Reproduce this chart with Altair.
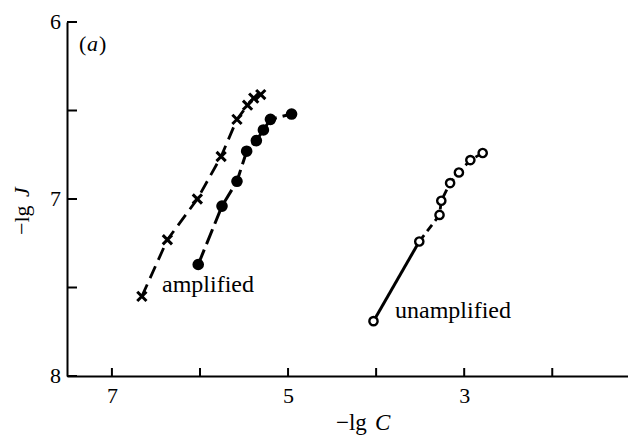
import altair as alt
import pandas as pd

# amplified, crosses
x_cross = [6.66, 6.37, 6.03, 5.76, 5.58, 5.46, 5.39, 5.31]
y_cross = [7.55, 7.23, 7.00, 6.76, 6.55, 6.47, 6.43, 6.41]
# amplified, filled circles
x_dot = [6.02, 5.75, 5.58, 5.47, 5.36, 5.28, 5.20, 4.96]
y_dot = [7.37, 7.04, 6.90, 6.73, 6.67, 6.61, 6.55, 6.52]
# unamplified, open circles
x_open = [4.03, 3.51, 3.28, 3.26, 3.16, 3.06, 2.93, 2.79]
y_open = [7.69, 7.24, 7.09, 7.01, 6.91, 6.85, 6.78, 6.74]

x_ticks = [7, 6, 5, 4, 3, 2]
x_labels = [7, 5, 3]
y_ticks = [6, 6.5, 7, 7.5, 8]
y_labels = ["6", "7", "8"]

FONT = "Liberation Serif"
W, H = 561, 354

xs = alt.Scale(domain=[1.14, 7.51], reverse=True, nice=False, zero=False)
ys = alt.Scale(domain=[6, 8], reverse=True, nice=False, zero=False)

common = dict(ticks=False, grid=False, domainColor="black", domainWidth=2,
              labelFont=FONT, labelFontSize=22, labelColor="black",
              labelOverlap=False, labelFlush=False, title=None, format="d")
xaxis = alt.Axis(values=x_labels, labelPadding=9, **common)
yaxis = alt.Axis(values=[6, 8], labels=False, **common)

xenc = alt.X("x:Q", scale=xs, axis=xaxis)
yenc = alt.Y("y:Q", scale=ys, axis=yaxis)

df_cross = pd.DataFrame({"x": x_cross, "y": y_cross})
df_dot = pd.DataFrame({"x": x_dot, "y": y_dot})
df_open = pd.DataFrame({"x": x_open, "y": y_open})
df_open_solid = df_open.iloc[:2]
df_open_dash = df_open.iloc[1:]

line_cross = alt.Chart(df_cross).mark_line(color="black", strokeWidth=2.8, strokeDash=[13, 7]).encode(x=xenc, y=yenc)
line_dot = alt.Chart(df_dot).mark_line(color="black", strokeWidth=3, strokeDash=[16, 6]).encode(x=xenc, y=yenc)
line_open_s = alt.Chart(df_open_solid).mark_line(color="black", strokeWidth=3).encode(x=xenc, y=yenc)
line_open_d = alt.Chart(df_open_dash).mark_line(color="black", strokeWidth=2.8, strokeDash=[8, 5]).encode(x=xenc, y=yenc)

pts_cross = alt.Chart(df_cross).mark_point(
    shape="M-1,-1L1,1M-1,1L1,-1", size=85, filled=False, color="black",
    strokeWidth=3, opacity=1).encode(x=xenc, y=yenc)
pts_dot = alt.Chart(df_dot).mark_point(
    shape="circle", size=135, filled=True, color="black", opacity=1).encode(x=xenc, y=yenc)
pts_open = alt.Chart(df_open).mark_point(
    shape="circle", size=68, filled=True, fill="white", stroke="black",
    strokeWidth=2.4, opacity=1, fillOpacity=1, strokeOpacity=1).encode(x=xenc, y=yenc)

xt = alt.Chart(pd.DataFrame({"x": x_ticks})).mark_rule(color="black", strokeWidth=2).encode(
    x=xenc, y=alt.value(H), y2=alt.value(H - 8))
yt = alt.Chart(pd.DataFrame({"y": y_ticks})).mark_rule(color="black", strokeWidth=2).encode(
    y=yenc, x=alt.value(0), x2=alt.value(10))
ylab = alt.Chart(pd.DataFrame({"y": [6.0, 7.0, 8.0], "t": y_labels})).mark_text(
    font=FONT, fontSize=22, align="right", baseline="middle", color="black", dx=-6).encode(
    y=yenc, x=alt.value(0), text="t:N")

def txt(s, x, y, angle=0, style="normal", size=22, align="left", baseline="alphabetic"):
    return alt.Chart(pd.DataFrame({"t": [s]})).mark_text(
        font=FONT, fontSize=size, fontStyle=style, align=align,
        baseline=baseline, angle=angle, color="black").encode(
        text="t:N", x=alt.value(x), y=alt.value(y))

labels = [
    txt("amplified", 95, 270, size=24),
    txt("unamplified", 328, 296, size=24),
    txt("(", 12, 29, size=22),
    txt("a", 20, 29, size=22, style="italic"),
    txt(")", 32, 29, size=22),
    txt("\u2212lg", 269, 408, size=23),
    txt("C", 308, 408, size=23, style="italic"),
    txt("\u2212lg", -45, 213, angle=270, size=22, baseline="middle"),
    txt("J", -45, 175, angle=270, size=22, style="italic", baseline="middle"),
]

chart = alt.layer(
    line_cross, line_dot, line_open_s, line_open_d,
    pts_cross, pts_dot, pts_open, xt, yt, ylab, *labels
).properties(
    width=W, height=H,
    background="white",
    autosize=alt.AutoSizeParams(type="none"),
    padding={"left": 59, "top": 14, "right": 0, "bottom": 60},
).configure_view(stroke=None)

chart.save("out.html", embed_options={"renderer": "svg", "actions": False})
